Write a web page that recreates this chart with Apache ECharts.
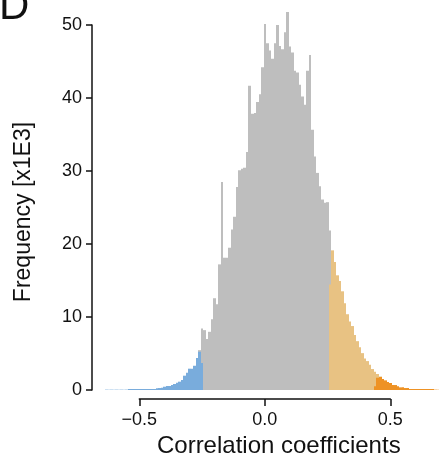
<!DOCTYPE html>
<html>
<head>
<meta charset="utf-8">
<script src="https://cdn.jsdelivr.net/npm/echarts@6/dist/echarts.min.js"></script>
<style>
html,body{margin:0;padding:0;background:#fff;}
#chart{width:440px;height:457px;}
</style>
</head>
<body>
<div id="chart"></div>
<script>
// Histogram bin width (correlation units)
const BIN = 0.01;

// Grey (middle) bins: first bin centre and counts [x1E3]
const grayStart = -0.26;
const grayValues = [5.46, 8.42, 8.20, 6.97, 7.97, 9.70, 12.57, 11.75, 17.21, 28.51,
  18.12, 18.12, 19.49, 22.0, 23.73, 27.82, 30.1, 30.3, 30.45, 32.6,
  41.67, 37.84, 37.93, 39.44, 40.53, 44.22, 50.14, 47.5, 46.49, 45.36,
  47.5, 50.0, 47.13, 46.68, 49.0, 51.78, 47.04, 46.22, 43.72, 43.49,
  41.80, 40.21, 39.07, 43.72, 45.9, 35.66, 32.0, 29.74, 27.91, 26.09,
  25.64, 25.73, 21.86];

// Blue (negative tail) bins
const blueStart = -0.63;
const blueValues = [0.05, 0.05, 0.05, 0.05, 0.05, 0.05, 0.05, 0.05, 0.05,
  0.14, 0.14, 0.14, 0.14, 0.14, 0.14, 0.14, 0.14, 0.14, 0.14, 0.14,
  0.25, 0.27, 0.30, 0.45, 0.55, 0.55, 0.68, 0.82, 1.0, 1.14,
  1.37, 1.96, 2.37, 2.92, 2.92, 3.32, 4.37, 5.24, 3.7];

// Tan (positive) bins
const tanStart = 0.26;
const tanValues = [14.44, 19.13, 17.53, 15.71, 14.94, 13.52, 11.89, 10.38, 9.38, 8.76,
  7.53, 6.69, 5.87, 5.05, 4.33, 3.96, 3.46, 2.87, 2.50, 2.19, 1.85];

// Orange (strong positive tail) bins
const orangeStart = 0.44;
const orangeValues = [0.5, 1.68, 1.78, 1.50, 1.32, 1.09, 0.96, 0.68, 0.68, 0.5,
  0.36, 0.36, 0.27, 0.27, 0.14, 0.14, 0.14, 0.14, 0.14, 0.14,
  0.14, 0.14, 0.14, 0.14, 0.05, 0.05];

const xTicks = [-0.5, 0.0, 0.5];
const yTicks = [0, 10, 20, 30, 40, 50];

const FONT = '"Liberation Sans", Arial, Helvetica, sans-serif';

function toData(start, values) {
  return values.map((v, i) => [Math.round((start + i * BIN) * 100) / 100, v]);
}

function histSeries(name, start, values, color) {
  return {
    type: 'custom',
    name: name,
    clip: false,
    silent: true,
    data: toData(start, values),
    renderItem: function (params, api) {
      const c = api.value(0), v = api.value(1);
      const p0 = api.coord([c - BIN / 2, v]);
      const p1 = api.coord([c + BIN / 2, 0]);
      const x0 = Math.round(p0[0]), x1 = Math.round(p1[0]);
      const y0 = p0[1], y1 = Math.round(p1[1]);
      return {
        type: 'rect',
        shape: { x: x0, y: y0, width: x1 - x0, height: y1 - y0 },
        style: { fill: color }
      };
    }
  };
}

const chart = echarts.init(document.getElementById('chart'), null, { renderer: 'canvas' });

chart.setOption({
  animation: false,
  backgroundColor: '#ffffff',
  textStyle: { fontFamily: FONT },
  grid: { left: 139.3, right: 49.7, top: 25, bottom: 67, containLabel: false, outerBoundsMode: 'none' },
  xAxis: {
    type: 'value',
    min: xTicks[0],
    max: xTicks[xTicks.length - 1],
    interval: 0.5,
    offset: 9,
    splitLine: { show: false },
    axisLine: { show: true, onZero: false, lineStyle: { color: '#111', width: 1.5 } },
    axisTick: { show: true, length: 7, lineStyle: { color: '#111', width: 1.5 } },
    axisLabel: {
      margin: 12,
      fontSize: 18,
      color: '#111',
      fontFamily: FONT,
      formatter: function (v) { return v.toFixed(1).replace('-', '\u2212'); }
    },
    name: 'Correlation coefficients',
    nameLocation: 'middle',
    nameGap: 29,
    nameTextStyle: { fontSize: 24, color: '#111', fontFamily: FONT, padding: [0, 0, 0, 28] }
  },
  yAxis: {
    type: 'value',
    min: yTicks[0],
    max: yTicks[yTicks.length - 1],
    interval: 10,
    offset: 47.3,
    splitLine: { show: false },
    axisLine: { show: true, onZero: false, lineStyle: { color: '#111', width: 1.5 } },
    axisTick: { show: true, length: 6, lineStyle: { color: '#111', width: 1.5 } },
    axisLabel: { margin: 10, fontSize: 18, color: '#111', fontFamily: FONT },
    name: 'Frequency [x1E3]',
    nameLocation: 'middle',
    nameGap: 57,
    nameTextStyle: { fontSize: 23, color: '#111', fontFamily: FONT, padding: [0, 9, 0, 0] }
  },
  graphic: [{
    type: 'text',
    left: -1,
    top: -14,
    style: { text: 'D', fontSize: 42, fill: '#111', fontFamily: FONT }
  }],
  series: [
    histSeries('middle', grayStart, grayValues, '#bebebe'),
    histSeries('negative', blueStart, blueValues, '#79acdc'),
    histSeries('positive', tanStart, tanValues, '#e8c283'),
    histSeries('strong', orangeStart, orangeValues, '#ee9224')
  ]
});
</script>
</body>
</html>
